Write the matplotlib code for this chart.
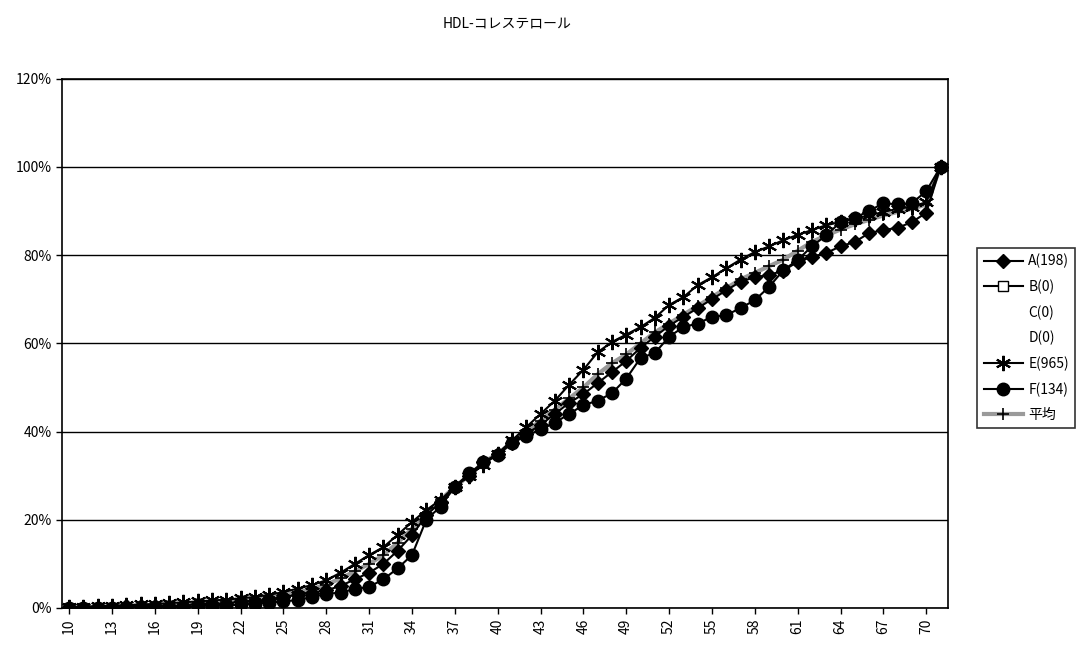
import matplotlib
matplotlib.use("Agg")
import matplotlib.pyplot as plt
import numpy as np

plt.rcParams['font.family'] = ['Noto Sans CJK JP', 'DejaVu Sans']

# categories (HDL value 10..71)
categories = list(range(10, 72))

# cumulative percent per group
series_a = [0.0, 0.0, 0.0, 0.0, 0.5, 0.5, 0.5, 0.5, 0.5, 1.0,
            1.0, 1.0, 1.5, 1.5, 2.0, 2.5, 3.0, 3.5, 4.0, 5.0,
            6.5, 8.0, 10.0, 13.0, 16.5, 21.0, 24.0, 27.5, 30.0, 33.0,
            35.0, 37.5, 39.5, 41.5, 44.0, 46.5, 48.5, 51.0, 53.5, 56.0,
            59.0, 61.5, 64.0, 66.0, 68.0, 70.0, 72.0, 74.0, 75.0, 75.5,
            76.5, 78.5, 79.6, 80.5, 82.0, 83.0, 85.0, 85.7, 86.2, 87.5,
            89.6, 100.0]
series_b = [np.nan] * len(categories)
series_c = [np.nan] * len(categories)
series_d = [np.nan] * len(categories)
series_e = [0.2, 0.3, 0.4, 0.5, 0.6, 0.8, 0.9, 1.1, 1.3, 1.5,
            1.7, 1.9, 2.2, 2.5, 3.0, 3.6, 4.4, 5.2, 6.3, 8.0,
            10.0, 12.0, 13.8, 16.6, 19.5, 22.2, 24.5, 27.5, 30.0, 32.5,
            35.0, 38.0, 41.0, 44.0, 47.0, 50.6, 54.0, 58.0, 60.3, 62.0,
            63.7, 65.8, 68.7, 70.5, 73.2, 75.0, 77.0, 79.0, 80.7, 82.0,
            83.4, 84.6, 85.7, 86.8, 87.5, 88.3, 89.0, 89.8, 90.5, 91.0,
            92.0, 100.0]
series_f = [0.0, 0.0, 0.0, 0.0, 0.0, 0.0, 0.0, 0.0, 0.0, 0.5,
            0.5, 0.5, 0.8, 1.0, 1.2, 1.5, 1.8, 2.5, 3.2, 3.5,
            4.3, 4.8, 6.5, 9.0, 12.0, 20.0, 23.0, 27.5, 30.5, 33.0,
            34.7, 37.4, 39.0, 40.5, 42.0, 44.0, 46.0, 47.0, 48.7, 52.0,
            56.7, 57.8, 61.5, 63.7, 64.5, 66.0, 66.4, 68.0, 69.8, 72.8,
            76.6, 78.9, 82.0, 84.5, 87.5, 88.5, 90.0, 91.8, 91.5, 91.8,
            94.5, 100.0]
series_avg = [0.1, 0.2, 0.3, 0.4, 0.5, 0.6, 0.7, 0.8, 0.9, 1.1,
              1.3, 1.5, 1.8, 2.1, 2.5, 3.0, 3.6, 4.3, 5.3, 6.7,
              8.3, 10.0, 12.0, 14.8, 18.0, 21.5, 24.5, 27.5, 30.0, 33.0,
              35.0, 37.5, 40.0, 42.5, 45.0, 47.5, 50.0, 53.0, 55.5, 57.5,
              60.0, 62.5, 64.5, 66.5, 68.5, 70.5, 72.5, 74.5, 76.0, 77.5,
              79.0, 81.0, 83.0, 84.5, 85.8, 87.0, 88.0, 89.0, 89.8, 90.5,
              91.5, 100.0]

labels = ["A(198)", "B(0)", "C(0)", "D(0)", "E(965)", "F(134)", "平均"]

fig = plt.figure(figsize=(10.88, 6.47), dpi=100)
ax = fig.add_axes([0.057, 0.0603, 0.814, 0.818])

x = np.arange(len(categories))

ax.plot(x, series_avg, color='#9a9a9a', linewidth=3, marker='+', markersize=9,
        markeredgecolor='black', markeredgewidth=1.2, label=labels[6], zorder=2)
ax.plot(x, series_a, color='black', linewidth=1.5, marker='D', markersize=7,
        label=labels[0], zorder=3)
ax.plot(x, series_b, color='black', linewidth=1.5, marker='s', markersize=7,
        markerfacecolor='white', label=labels[1], zorder=3)
ax.plot(x, series_c, linestyle='none', marker='none', label=labels[2])
ax.plot(x, series_d, linestyle='none', marker='none', label=labels[3])
ax.plot(x, series_e, color='black', linewidth=1.5, marker=(6, 2, 0), markersize=11,
        markeredgewidth=1.5, label=labels[4], zorder=3)
ax.plot(x, series_f, color='black', linewidth=1.5, marker='o', markersize=9,
        label=labels[5], zorder=3)

ax.set_xlim(-0.5, len(categories) - 0.5)
ax.set_ylim(0, 120)
ax.set_yticks(range(0, 121, 20))
ax.set_yticklabels([f"{v}%" for v in range(0, 121, 20)], fontsize=10)
ax.set_xticks(x[::3])
ax.set_xticklabels([str(c) for c in categories[::3]], rotation=90, fontsize=10)
ax.tick_params(axis='both', length=4, width=1, color='black')
ax.yaxis.grid(True, color='black', linewidth=1)
ax.set_axisbelow(True)
for s in ax.spines.values():
    s.set_color('black')
    s.set_linewidth(1.2)

fig.suptitle("HDL-コレステロール", x=0.466, y=0.975, fontsize=10)

handles, labs = ax.get_legend_handles_labels()
order = [1, 2, 3, 4, 5, 6, 0]
leg = fig.legend([handles[i] for i in order], [labs[i] for i in order],
                 loc='upper left', bbox_to_anchor=(0.892, 0.628),
                 fancybox=False, edgecolor='black', fontsize=10,
                 handlelength=2.8, labelspacing=0.8, borderpad=0.45,
                 handletextpad=0.4)
leg.get_frame().set_linewidth(1.2)

fig.savefig("out.png", dpi=100)
